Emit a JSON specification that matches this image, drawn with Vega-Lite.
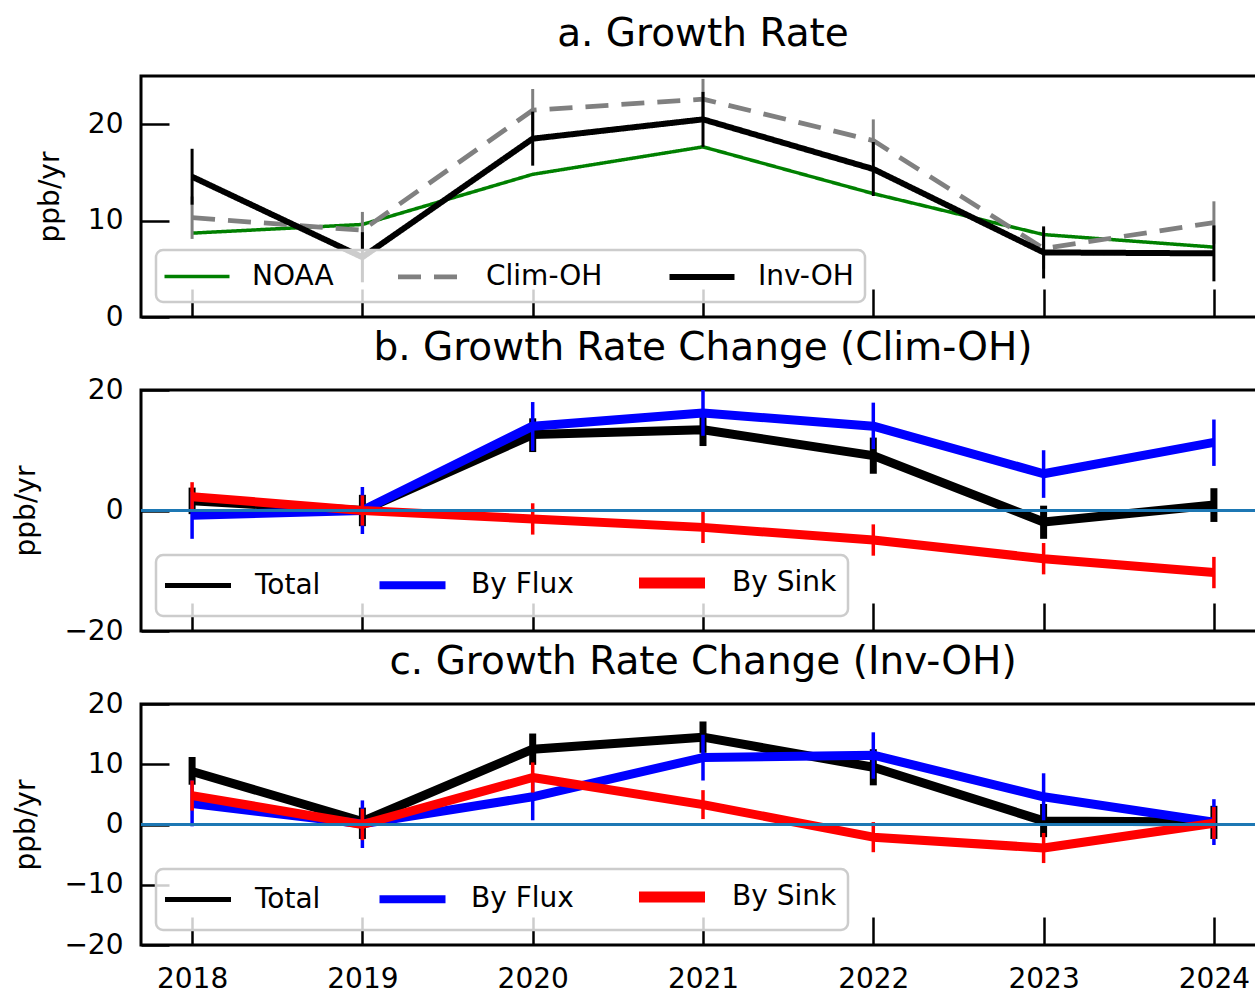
{
  "$schema": "https://vega.github.io/schema/vega-lite/v6.json",
  "background": "white",
  "padding": {"left": 11, "top": 13, "right": 0, "bottom": 0},
  "spacing": 73,
  "bounds": "flush",
  "config": {
    "font": "DejaVu Sans",
    "view": {"stroke": "black", "strokeWidth": 3},
    "axis": {
      "domain": false, "grid": false, "ticks": true, "tickSize": -28, "tickWidth": 2.5, "tickColor": "black",
      "labelFontSize": 28, "labelColor": "black", "labelFont": "DejaVu Sans", "labelFlush": false, "labelOverlap": false,
      "titleFontSize": 28, "titleFontWeight": "normal", "titleColor": "black", "titleFont": "DejaVu Sans"
    },
    "axisX": {"labelPadding": 48},
    "axisY": {"labelPadding": 46, "titlePadding": 23},
    "legend": {
      "orient": "bottom-left", "offset": 15, "direction": "horizontal", "symbolType": "M-2.5,0H2.5", "symbolSize": 676,
      "symbolOffset": 15, "labelFontSize": 28, "labelFont": "DejaVu Sans", "labelColor": "black", "labelOffset": 40, "columnPadding": 54,
      "padding": 11, "fillColor": "rgba(255,255,255,0.8)", "strokeColor": "#cccccc", "cornerRadius": 7, "strokeWidth": 2.5
    },
    "title": {"fontSize": 39, "fontWeight": "normal", "color": "black", "offset": 20, "anchor": "middle", "font": "DejaVu Sans"}
  },
  "resolve": {
    "scale": {"color": "independent", "strokeDash": "independent", "strokeWidth": "independent"},
    "legend": {"color": "independent", "strokeDash": "independent", "strokeWidth": "independent"}
  },
  "datasets": {
    "a": [
      {"year": 2018, "series": "NOAA", "value": 8.7},
      {"year": 2019, "series": "NOAA", "value": 9.6},
      {"year": 2020, "series": "NOAA", "value": 14.8},
      {"year": 2021, "series": "NOAA", "value": 17.65},
      {"year": 2022, "series": "NOAA", "value": 12.8},
      {"year": 2023, "series": "NOAA", "value": 8.55},
      {"year": 2024, "series": "NOAA", "value": 7.25},
      {"year": 2018, "series": "Clim-OH", "value": 10.3, "lo": 8.1, "hi": 12.5},
      {"year": 2019, "series": "Clim-OH", "value": 9.0, "lo": 7.1, "hi": 10.9},
      {"year": 2020, "series": "Clim-OH", "value": 21.45, "lo": 19.25, "hi": 23.65},
      {"year": 2021, "series": "Clim-OH", "value": 22.6, "lo": 20.5, "hi": 24.7},
      {"year": 2022, "series": "Clim-OH", "value": 18.3, "lo": 16.1, "hi": 20.5},
      {"year": 2023, "series": "Clim-OH", "value": 7.1, "lo": 5.0, "hi": 9.2},
      {"year": 2024, "series": "Clim-OH", "value": 9.8, "lo": 7.6, "hi": 12.0},
      {"year": 2018, "series": "Inv-OH", "value": 14.55, "lo": 11.65, "hi": 17.45},
      {"year": 2019, "series": "Inv-OH", "value": 6.2, "lo": 3.6, "hi": 8.8},
      {"year": 2020, "series": "Inv-OH", "value": 18.5, "lo": 15.7, "hi": 21.3},
      {"year": 2021, "series": "Inv-OH", "value": 20.5, "lo": 17.65, "hi": 23.35},
      {"year": 2022, "series": "Inv-OH", "value": 15.35, "lo": 12.55, "hi": 18.15},
      {"year": 2023, "series": "Inv-OH", "value": 6.7, "lo": 4.0, "hi": 9.4},
      {"year": 2024, "series": "Inv-OH", "value": 6.6, "lo": 3.7, "hi": 9.5}
    ],
    "b": [
      {"year": 2018, "series": "Total", "value": 1.6, "lo": -0.6, "hi": 3.8},
      {"year": 2019, "series": "Total", "value": 0.0, "lo": -2.6, "hi": 2.6},
      {"year": 2020, "series": "Total", "value": 12.6, "lo": 9.7, "hi": 15.3},
      {"year": 2021, "series": "Total", "value": 13.4, "lo": 10.7, "hi": 16.1},
      {"year": 2022, "series": "Total", "value": 9.1, "lo": 6.1, "hi": 12.1},
      {"year": 2023, "series": "Total", "value": -1.9, "lo": -4.7, "hi": 0.8},
      {"year": 2024, "series": "Total", "value": 0.9, "lo": -1.9, "hi": 3.7},
      {"year": 2018, "series": "By Flux", "value": -0.8, "lo": -4.7, "hi": 3.1},
      {"year": 2019, "series": "By Flux", "value": 0.0, "lo": -3.9, "hi": 3.9},
      {"year": 2020, "series": "By Flux", "value": 14.0, "lo": 9.9, "hi": 18.0},
      {"year": 2021, "series": "By Flux", "value": 16.2, "lo": 12.4, "hi": 20.0},
      {"year": 2022, "series": "By Flux", "value": 14.0, "lo": 10.2, "hi": 17.9},
      {"year": 2023, "series": "By Flux", "value": 6.1, "lo": 2.1, "hi": 10.0},
      {"year": 2024, "series": "By Flux", "value": 11.3, "lo": 7.4, "hi": 15.1},
      {"year": 2018, "series": "By Sink", "value": 2.3, "lo": -0.1, "hi": 4.7},
      {"year": 2019, "series": "By Sink", "value": 0.0, "lo": -2.5, "hi": 2.5},
      {"year": 2020, "series": "By Sink", "value": -1.4, "lo": -4.0, "hi": 1.2},
      {"year": 2021, "series": "By Sink", "value": -2.8, "lo": -5.4, "hi": -0.1},
      {"year": 2022, "series": "By Sink", "value": -4.9, "lo": -7.5, "hi": -2.3},
      {"year": 2023, "series": "By Sink", "value": -8.0, "lo": -10.6, "hi": -5.4},
      {"year": 2024, "series": "By Sink", "value": -10.3, "lo": -12.9, "hi": -7.7}
    ],
    "c": [
      {"year": 2018, "series": "Total", "value": 8.8, "lo": 6.6, "hi": 11.2},
      {"year": 2019, "series": "Total", "value": 0.5, "lo": -2.4, "hi": 2.8},
      {"year": 2020, "series": "Total", "value": 12.5, "lo": 9.9, "hi": 15.1},
      {"year": 2021, "series": "Total", "value": 14.5, "lo": 11.9, "hi": 17.1},
      {"year": 2022, "series": "Total", "value": 9.5, "lo": 6.5, "hi": 12.5},
      {"year": 2023, "series": "Total", "value": 0.6, "lo": -2.1, "hi": 3.4},
      {"year": 2024, "series": "Total", "value": 0.4, "lo": -2.4, "hi": 3.1},
      {"year": 2018, "series": "By Flux", "value": 3.5, "lo": -0.3, "hi": 7.3},
      {"year": 2019, "series": "By Flux", "value": 0.1, "lo": -3.9, "hi": 4.0},
      {"year": 2020, "series": "By Flux", "value": 4.6, "lo": 0.7, "hi": 8.4},
      {"year": 2021, "series": "By Flux", "value": 11.1, "lo": 7.3, "hi": 14.9},
      {"year": 2022, "series": "By Flux", "value": 11.5, "lo": 7.6, "hi": 15.3},
      {"year": 2023, "series": "By Flux", "value": 4.6, "lo": 0.7, "hi": 8.5},
      {"year": 2024, "series": "By Flux", "value": 0.4, "lo": -3.4, "hi": 4.2},
      {"year": 2018, "series": "By Sink", "value": 4.8, "lo": 2.3, "hi": 7.3},
      {"year": 2019, "series": "By Sink", "value": 0.0, "lo": -2.6, "hi": 2.6},
      {"year": 2020, "series": "By Sink", "value": 7.8, "lo": 5.3, "hi": 10.3},
      {"year": 2021, "series": "By Sink", "value": 3.3, "lo": 0.9, "hi": 5.7},
      {"year": 2022, "series": "By Sink", "value": -2.1, "lo": -4.6, "hi": 0.4},
      {"year": 2023, "series": "By Sink", "value": -3.9, "lo": -6.4, "hi": -1.4},
      {"year": 2024, "series": "By Sink", "value": 0.2, "lo": -2.4, "hi": 2.9}
    ]
  },
  "vconcat": [
    {
      "title": {"text": "a. Growth Rate", "offset": 22},
      "width": 1124, "height": 241,
      "data": {"name": "a"},
      "encoding": {
        "x": {"field": "year", "type": "quantitative", "scale": {"domain": [2017.7, 2024.3], "nice": false, "zero": false}, "axis": {"values": [2018, 2019, 2020, 2021, 2022, 2023, 2024], "labels": false, "title": null}},
        "y": {"field": "value", "type": "quantitative", "scale": {"domain": [0, 25], "nice": false, "zero": false}, "axis": {"values": [0, 10, 20], "title": "ppb/yr"}}
      },
      "layer": [
        {
          "transform": [{"filter": {"field": "series", "equal": "NOAA"}}],
          "mark": {"type": "line", "clip": true, "strokeJoin": "round"},
          "encoding": {
            "color": {"field": "series", "type": "nominal", "scale": {"domain": ["NOAA", "Clim-OH", "Inv-OH"], "range": ["#008000", "#808080", "#000000"]}, "legend": {"title": null}},
            "strokeDash": {"field": "series", "type": "nominal", "scale": {"domain": ["NOAA", "Clim-OH", "Inv-OH"], "range": [[1, 0], [23, 13], [1, 0]]}, "legend": {"title": null}},
            "strokeWidth": {"field": "series", "type": "nominal", "scale": {"domain": ["NOAA", "Clim-OH", "Inv-OH"], "range": [3.5, 6, 7.5]}, "legend": {"title": null}}
          }
        },
        {
          "transform": [{"filter": {"field": "series", "equal": "Clim-OH"}}],
          "mark": {"type": "line", "clip": true, "strokeJoin": "round"},
          "encoding": {
            "color": {"field": "series", "type": "nominal", "scale": {"domain": ["NOAA", "Clim-OH", "Inv-OH"], "range": ["#008000", "#808080", "#000000"]}, "legend": {"title": null}},
            "strokeDash": {"field": "series", "type": "nominal", "scale": {"domain": ["NOAA", "Clim-OH", "Inv-OH"], "range": [[1, 0], [23, 13], [1, 0]]}, "legend": {"title": null}},
            "strokeWidth": {"field": "series", "type": "nominal", "scale": {"domain": ["NOAA", "Clim-OH", "Inv-OH"], "range": [3.5, 6, 7.5]}, "legend": {"title": null}}
          }
        },
        {
          "transform": [{"filter": {"field": "series", "equal": "Clim-OH"}}],
          "mark": {"type": "rule", "clip": true, "color": "#808080", "strokeWidth": 3},
          "encoding": {"y": {"field": "lo", "type": "quantitative"}, "y2": {"field": "hi"}}
        },
        {
          "transform": [{"filter": {"field": "series", "equal": "Inv-OH"}}],
          "mark": {"type": "line", "clip": true, "strokeJoin": "round"},
          "encoding": {
            "color": {"field": "series", "type": "nominal", "scale": {"domain": ["NOAA", "Clim-OH", "Inv-OH"], "range": ["#008000", "#808080", "#000000"]}, "legend": {"title": null}},
            "strokeDash": {"field": "series", "type": "nominal", "scale": {"domain": ["NOAA", "Clim-OH", "Inv-OH"], "range": [[1, 0], [23, 13], [1, 0]]}, "legend": {"title": null}},
            "strokeWidth": {"field": "series", "type": "nominal", "scale": {"domain": ["NOAA", "Clim-OH", "Inv-OH"], "range": [3.5, 6, 7.5]}, "legend": {"title": null}}
          }
        },
        {
          "transform": [{"filter": {"field": "series", "equal": "Inv-OH"}}],
          "mark": {"type": "rule", "clip": true, "color": "#000000", "strokeWidth": 3},
          "encoding": {"y": {"field": "lo", "type": "quantitative"}, "y2": {"field": "hi"}}
        }
      ]
    },
    {
      "title": {"text": "b. Growth Rate Change (Clim-OH)", "offset": 8},
      "width": 1124, "height": 241,
      "data": {"name": "b"},
      "encoding": {
        "x": {"field": "year", "type": "quantitative", "scale": {"domain": [2017.7, 2024.3], "nice": false, "zero": false}, "axis": {"values": [2018, 2019, 2020, 2021, 2022, 2023, 2024], "labels": false, "title": null}},
        "y": {"field": "value", "type": "quantitative", "scale": {"domain": [-20, 20], "nice": false, "zero": false}, "axis": {"values": [-20, 0, 20], "title": "ppb/yr"}}
      },
      "layer": [
        {
          "transform": [{"filter": "datum.year > 3000"}],
          "mark": {"type": "line"},
          "encoding": {
            "color": {"field": "series", "type": "nominal", "scale": {"domain": ["Total", "By Flux", "By Sink"], "range": ["#000000", "#0000ff", "#ff0000"]}, "legend": {"title": null, "symbolType": "M-2.87,0H2.87", "symbolSize": 529, "symbolOffset": 17, "labelOffset": 43, "columnPadding": 42}},
            "strokeWidth": {"field": "series", "type": "nominal", "scale": {"domain": ["Total", "By Flux", "By Sink"], "range": [5, 11, 11]}, "legend": {"title": null, "symbolType": "M-2.87,0H2.87", "symbolSize": 529, "symbolOffset": 17, "labelOffset": 43, "columnPadding": 42}}
          }
        },
        {
          "transform": [{"filter": {"field": "series", "equal": "Total"}}],
          "mark": {"type": "line", "clip": true, "strokeJoin": "round", "strokeWidth": 9},
          "encoding": {"color": {"field": "series", "type": "nominal", "scale": {"domain": ["Total", "By Flux", "By Sink"], "range": ["#000000", "#0000ff", "#ff0000"]}, "legend": {"title": null}}}
        },
        {
          "transform": [{"filter": {"field": "series", "equal": "Total"}}],
          "mark": {"type": "rule", "clip": true, "color": "#000000", "strokeWidth": 7},
          "encoding": {"y": {"field": "lo", "type": "quantitative"}, "y2": {"field": "hi"}}
        },
        {
          "transform": [{"filter": {"field": "series", "equal": "By Flux"}}],
          "mark": {"type": "line", "clip": true, "strokeJoin": "round", "strokeWidth": 9},
          "encoding": {"color": {"field": "series", "type": "nominal", "scale": {"domain": ["Total", "By Flux", "By Sink"], "range": ["#000000", "#0000ff", "#ff0000"]}, "legend": {"title": null}}}
        },
        {
          "transform": [{"filter": {"field": "series", "equal": "By Flux"}}],
          "mark": {"type": "rule", "clip": true, "color": "#0000ff", "strokeWidth": 3.5},
          "encoding": {"y": {"field": "lo", "type": "quantitative"}, "y2": {"field": "hi"}}
        },
        {
          "transform": [{"filter": {"field": "series", "equal": "By Sink"}}],
          "mark": {"type": "line", "clip": true, "strokeJoin": "round", "strokeWidth": 9},
          "encoding": {"color": {"field": "series", "type": "nominal", "scale": {"domain": ["Total", "By Flux", "By Sink"], "range": ["#000000", "#0000ff", "#ff0000"]}, "legend": {"title": null}}}
        },
        {
          "transform": [{"filter": {"field": "series", "equal": "By Sink"}}],
          "mark": {"type": "rule", "clip": true, "color": "#ff0000", "strokeWidth": 3.5},
          "encoding": {"y": {"field": "lo", "type": "quantitative"}, "y2": {"field": "hi"}}
        },
        {
          "mark": {"type": "rule", "color": "#1f77b4", "strokeWidth": 1.5},
          "encoding": {"y": {"datum": 0}, "x": {"datum": 2017.7}, "x2": {"datum": 2024.3}}
        }
      ]
    },
    {
      "title": {"text": "c. Growth Rate Change (Inv-OH)", "offset": 8},
      "width": 1124, "height": 241,
      "data": {"name": "c"},
      "encoding": {
        "x": {"field": "year", "type": "quantitative", "scale": {"domain": [2017.7, 2024.3], "nice": false, "zero": false}, "axis": {"values": [2018, 2019, 2020, 2021, 2022, 2023, 2024], "format": "d", "title": null}},
        "y": {"field": "value", "type": "quantitative", "scale": {"domain": [-20, 20], "nice": false, "zero": false}, "axis": {"values": [-20, -10, 0, 10, 20], "title": "ppb/yr"}}
      },
      "layer": [
        {
          "transform": [{"filter": "datum.year > 3000"}],
          "mark": {"type": "line"},
          "encoding": {
            "color": {"field": "series", "type": "nominal", "scale": {"domain": ["Total", "By Flux", "By Sink"], "range": ["#000000", "#0000ff", "#ff0000"]}, "legend": {"title": null, "symbolType": "M-2.87,0H2.87", "symbolSize": 529, "symbolOffset": 17, "labelOffset": 43, "columnPadding": 42}},
            "strokeWidth": {"field": "series", "type": "nominal", "scale": {"domain": ["Total", "By Flux", "By Sink"], "range": [5, 11, 11]}, "legend": {"title": null, "symbolType": "M-2.87,0H2.87", "symbolSize": 529, "symbolOffset": 17, "labelOffset": 43, "columnPadding": 42}}
          }
        },
        {
          "transform": [{"filter": {"field": "series", "equal": "Total"}}],
          "mark": {"type": "line", "clip": true, "strokeJoin": "round", "strokeWidth": 9},
          "encoding": {"color": {"field": "series", "type": "nominal", "scale": {"domain": ["Total", "By Flux", "By Sink"], "range": ["#000000", "#0000ff", "#ff0000"]}, "legend": {"title": null}}}
        },
        {
          "transform": [{"filter": {"field": "series", "equal": "Total"}}],
          "mark": {"type": "rule", "clip": true, "color": "#000000", "strokeWidth": 7},
          "encoding": {"y": {"field": "lo", "type": "quantitative"}, "y2": {"field": "hi"}}
        },
        {
          "transform": [{"filter": {"field": "series", "equal": "By Flux"}}],
          "mark": {"type": "line", "clip": true, "strokeJoin": "round", "strokeWidth": 9},
          "encoding": {"color": {"field": "series", "type": "nominal", "scale": {"domain": ["Total", "By Flux", "By Sink"], "range": ["#000000", "#0000ff", "#ff0000"]}, "legend": {"title": null}}}
        },
        {
          "transform": [{"filter": {"field": "series", "equal": "By Flux"}}],
          "mark": {"type": "rule", "clip": true, "color": "#0000ff", "strokeWidth": 3.5},
          "encoding": {"y": {"field": "lo", "type": "quantitative"}, "y2": {"field": "hi"}}
        },
        {
          "transform": [{"filter": {"field": "series", "equal": "By Sink"}}],
          "mark": {"type": "line", "clip": true, "strokeJoin": "round", "strokeWidth": 9},
          "encoding": {"color": {"field": "series", "type": "nominal", "scale": {"domain": ["Total", "By Flux", "By Sink"], "range": ["#000000", "#0000ff", "#ff0000"]}, "legend": {"title": null}}}
        },
        {
          "transform": [{"filter": {"field": "series", "equal": "By Sink"}}],
          "mark": {"type": "rule", "clip": true, "color": "#ff0000", "strokeWidth": 3.5},
          "encoding": {"y": {"field": "lo", "type": "quantitative"}, "y2": {"field": "hi"}}
        },
        {
          "mark": {"type": "rule", "color": "#1f77b4", "strokeWidth": 1.5},
          "encoding": {"y": {"datum": 0}, "x": {"datum": 2017.7}, "x2": {"datum": 2024.3}}
        }
      ]
    }
  ]
}
